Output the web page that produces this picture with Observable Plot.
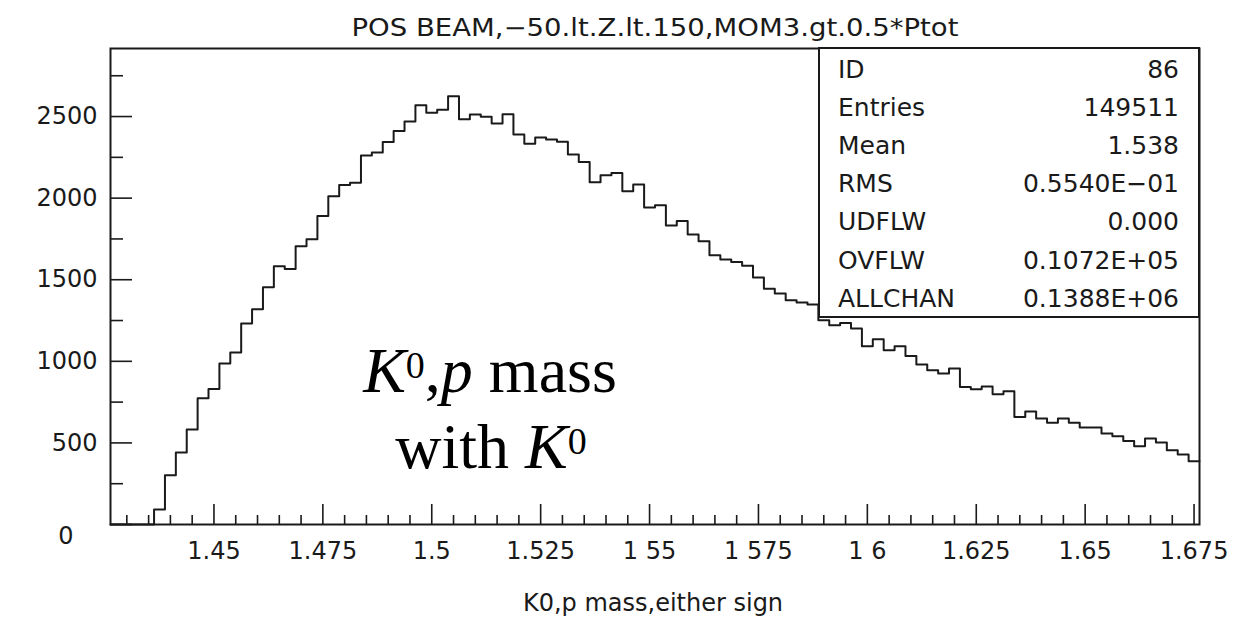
<!DOCTYPE html>
<html>
<head>
<meta charset="utf-8">
<script src="https://cdn.jsdelivr.net/npm/d3@7"></script>
<script src="https://cdn.jsdelivr.net/npm/@observablehq/plot@0.6"></script>
<style>
  body { margin: 0; background: #fff; }
  #chart svg { display: block; }
</style>
</head>
<body>
<div id="chart"></div>
<script>
// ---- data ----
const binStart = 1.42625;   // left edge of first bin
const binWidth = 0.0025;    // 100 bins
const counts = [
  0, 0, 0, 0, 92, 302, 441, 582, 774, 831,
  986, 1054, 1232, 1319, 1454, 1583, 1566, 1705, 1748, 1891,
  2012, 2081, 2095, 2261, 2279, 2344, 2412, 2469, 2569, 2524,
  2541, 2624, 2483, 2512, 2498, 2457, 2514, 2390, 2334, 2371,
  2359, 2345, 2267, 2222, 2097, 2140, 2154, 2042, 2083, 1942,
  1956, 1832, 1860, 1777, 1736, 1650, 1624, 1609, 1585, 1513,
  1444, 1415, 1374, 1360, 1348, 1252, 1221, 1235, 1201, 1093,
  1135, 1068, 1093, 1033, 980, 945, 925, 956, 843, 829,
  845, 798, 817, 659, 692, 650, 623, 650, 623, 594,
  594, 558, 541, 512, 480, 527, 502, 455, 429, 388
];
const xMajorTicks = [1.45, 1.475, 1.5, 1.525, 1.55, 1.575, 1.6, 1.625, 1.65, 1.675];
const xTickLabels = ["1.45", "1.475", "1.5", "1.525", "1 55", "1 575", "1 6", "1.625", "1.65", "1.675"];
const xMinorTicks = [1.43, 1.435, 1.44, 1.445, 1.455, 1.46, 1.465, 1.47, 1.48, 1.485, 1.49, 1.495,
  1.505, 1.51, 1.515, 1.52, 1.53, 1.535, 1.54, 1.545, 1.555, 1.56, 1.565, 1.57, 1.58, 1.585, 1.59, 1.595,
  1.605, 1.61, 1.615, 1.62, 1.63, 1.635, 1.64, 1.645, 1.655, 1.66, 1.665, 1.67];
const yMajorTicks = [0, 500, 1000, 1500, 2000, 2500];
const yMinorTicks = [250, 750, 1250, 1750, 2250, 2750];
const yMax = 2917;
const titleText = "POS BEAM,\u221250.lt.Z.lt.150,MOM3.gt.0.5*Ptot";
const xLabelText = "K0,p mass,either sign";
const statLabels = ["ID", "Entries", "Mean", "RMS", "UDFLW", "OVFLW", "ALLCHAN"];
const statValues = ["86", "149511", "1.538", "0.5540E\u221201", "0.000", "0.1072E+05", "0.1388E+06"];

// step outline: one point per bin left edge plus the closing right edge
const xMin = binStart, xMaxD = binStart + counts.length * binWidth;
const steps = counts.map((c, i) => ({x: binStart + i * binWidth, y: c}));
steps.push({x: xMaxD, y: counts[counts.length - 1]});

const W = 1237, H = 632;
const mL = 110, mR = 38, mT = 48, mB = 108;
const ink = "#1a1a1a";
const sans = "DejaVu Sans, sans-serif";

// tick lengths (px) converted to data units for inward ticks
const pxX = (xMaxD - xMin) / (W - mL - mR);
const pxY = yMax / (H - mT - mB);
const tickStyle = {stroke: ink, strokeWidth: 1.6};

const plot = Plot.plot({
  width: W,
  height: H,
  marginLeft: mL,
  marginRight: mR,
  marginTop: mT,
  marginBottom: mB,
  style: {fontFamily: sans, color: ink, background: "#fff"},
  x: {domain: [xMin, xMaxD]},
  y: {domain: [0, yMax]},
  marks: [
    Plot.line(steps, {x: "x", y: "y", curve: "step-after", stroke: ink, strokeWidth: 2}),
    // inward ticks
    Plot.ruleY(yMajorTicks, {y: (d) => d, x1: xMin, x2: xMin + 22 * pxX, ...tickStyle}),
    Plot.ruleY(yMinorTicks, {y: (d) => d, x1: xMin, x2: xMin + 13 * pxX, ...tickStyle}),
    Plot.ruleX(xMajorTicks, {x: (d) => d, y1: 0, y2: 20 * pxY, ...tickStyle}),
    Plot.ruleX(xMinorTicks, {x: (d) => d, y1: 0, y2: 9 * pxY, ...tickStyle}),
    // tick labels
    Plot.axisY(yMajorTicks.filter((d) => d > 0), {anchor: "left", tickSize: 0, tickPadding: 13, fontSize: 24, label: null, fill: ink,
      tickFormat: (d) => String(d)}),
    Plot.axisY([0], {anchor: "left", tickSize: 0, tickPadding: 13, fontSize: 24, label: null, fill: ink, dy: 12, dx: -24,
      tickFormat: (d) => String(d)}),
    Plot.axisX(xMajorTicks, {anchor: "bottom", tickSize: 0, tickPadding: 17, fontSize: 24, label: null, fill: ink,
      tickFormat: (d) => xTickLabels[xMajorTicks.indexOf(d)]}),
    Plot.frame({stroke: ink, strokeWidth: 2})
  ]
});

document.getElementById("chart").appendChild(plot);

const svg = d3.select(plot);

// title
svg.append("text")
  .attr("x", 655).attr("y", 36)
  .attr("text-anchor", "middle")
  .attr("font-family", sans).attr("font-size", 24)
  .attr("fill", ink)
  .attr("textLength", 607).attr("lengthAdjust", "spacingAndGlyphs")
  .text(titleText);

// x axis label
svg.append("text")
  .attr("x", 653).attr("y", 611)
  .attr("text-anchor", "middle")
  .attr("font-family", sans).attr("font-size", 24)
  .attr("fill", ink)
  .text(xLabelText);

// statistics box
const boxL = 819, boxR = W - mR, boxT = mT, boxB = 317;
const box = svg.append("g");
box.append("rect")
  .attr("x", boxL).attr("y", boxT)
  .attr("width", boxR - boxL).attr("height", boxB - boxT)
  .attr("fill", "#fff").attr("stroke", ink).attr("stroke-width", 2);
statLabels.forEach((s, i) => {
  const y = 78 + i * 38.1;
  box.append("text").attr("x", 838).attr("y", y)
    .attr("text-anchor", "start")
    .attr("font-family", sans).attr("font-size", 25).attr("fill", ink)
    .text(s);
  box.append("text").attr("x", 1179).attr("y", y)
    .attr("text-anchor", "end")
    .attr("font-family", sans).attr("font-size", 25).attr("fill", ink)
    .text(statValues[i]);
});

// annotation in serif
const serif = "Liberation Serif, Times New Roman, serif";
const ann = svg.append("g").attr("font-family", serif).attr("fill", "#000");
const l1 = ann.append("text").attr("x", 490).attr("y", 392).attr("text-anchor", "middle").attr("font-size", 64);
l1.append("tspan").attr("font-style", "italic").text("K");
l1.append("tspan").attr("font-size", 38).attr("dy", -14).text("0");
l1.append("tspan").attr("dy", 14).text(",");
l1.append("tspan").attr("font-style", "italic").text("p");
l1.append("tspan").text(" mass");
const l2 = ann.append("text").attr("x", 491).attr("y", 468).attr("text-anchor", "middle").attr("font-size", 64);
l2.append("tspan").text("with ");
l2.append("tspan").attr("font-style", "italic").text("K");
l2.append("tspan").attr("font-size", 38).attr("dy", -14).text("0");
</script>
</body>
</html>
